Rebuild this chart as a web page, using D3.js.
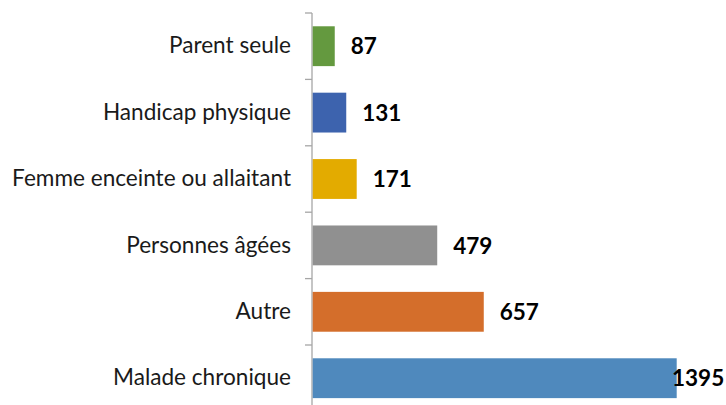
<!DOCTYPE html>
<html>
<head>
<meta charset="utf-8">
<script src="https://cdn.jsdelivr.net/npm/d3@7"></script>
<style>
  body { margin: 0; background: #fff; }
  svg { display: block; }
  .cat text { font-family: Lato, "Open Sans", sans-serif; font-size: 22.6px; fill: #1a1a1a; }
  .val { font-family: Lato, "Open Sans", sans-serif; font-size: 22.5px; font-weight: bold; fill: #000; }
</style>
</head>
<body>
<svg width="726" height="405"></svg>
<script>
// categories top to bottom
var categories = ["Parent seule", "Handicap physique", "Femme enceinte ou allaitant",
                  "Personnes âgées", "Autre", "Malade chronique"]
var values = [87, 131, 171, 479, 657, 1395]
var colors = ["#64993f", "#3d63ae", "#e3ab00", "#909090", "#d46e2b", "#4f89bd"]

var svg = d3.select("svg")

var x = d3.scaleLinear()
    .domain([0, 1395])
    .range([312, 676.7])

var y = d3.scaleBand()
    .domain(categories)
    .range([13, 411.4])
    .paddingInner(0.4)
    .paddingOuter(0.2)

var yAxis = d3.axisLeft(y).tickSize(0).tickPadding(21)

var ax = svg.append("g")
    .attr("class", "cat")
    .attr("transform", "translate(312,0)")
    .call(yAxis)
ax.select(".domain").remove()

// tick marks sit on the band boundaries
var bounds = d3.range(categories.length + 1).map(function(i) { return 13 + i * (411.4 - 13) / categories.length })

svg.append("line")
    .attr("x1", 312).attr("x2", 312)
    .attr("y1", bounds[0]).attr("y2", bounds[bounds.length - 1])
    .attr("stroke", "#a6a6a6").attr("stroke-width", 1.3)

svg.selectAll(".tick-mark")
    .data(bounds)
    .enter().append("line")
      .attr("class", "tick-mark")
      .attr("x1", 305).attr("x2", 312)
      .attr("y1", function(d) { return d }).attr("y2", function(d) { return d })
      .attr("stroke", "#a6a6a6").attr("stroke-width", 1.3)

svg.selectAll(".bar")
    .data(values)
    .enter().append("rect")
      .attr("class", "bar")
      .attr("x", x(0) + 0.7)
      .attr("y", function(d, i) { return y(categories[i]) })
      .attr("width", function(d) { return x(d) - x(0) - 0.7 })
      .attr("height", y.bandwidth())
      .attr("fill", function(d, i) { return colors[i] })

// value labels, pushed back inside the frame when too wide
svg.selectAll(".val")
    .data(values)
    .enter().append("text")
      .attr("class", "val")
      .attr("x", function(d) { return Math.min(x(d) + 16, 672) })
      .attr("y", function(d, i) { return y(categories[i]) + y.bandwidth() / 2 })
      .attr("dy", "0.36em")
      .text(function(d) { return d })
</script>
</body>
</html>
